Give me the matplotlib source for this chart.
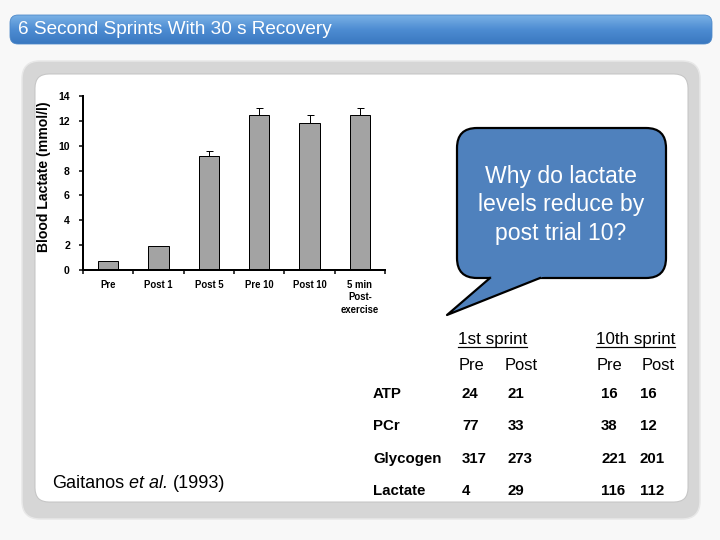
import numpy as np
import matplotlib
matplotlib.use('Agg')
import matplotlib.pyplot as plt
from matplotlib.patches import FancyBboxPatch, Polygon
from matplotlib.lines import Line2D
from matplotlib.colors import LinearSegmentedColormap

plt.rcParams['font.family'] = ['Liberation Sans', 'DejaVu Sans']

# blood lactate over the sprints (Gaitanos et al. 1993)
time_points = ['Pre', 'Post 1', 'Post 5', 'Pre 10', 'Post 10', '5 min\nPost-\nexercise']
lactate = [0.7, 1.9, 9.2, 12.5, 11.8, 12.5]
lactate_err = [0.0, 0.07, 0.4, 0.55, 0.65, 0.55]

# muscle metabolites
metabolites = ['ATP', 'PCr', 'Glycogen', 'Lactate']
sprint1_pre = [24, 77, 317, 4]
sprint1_post = [21, 33, 273, 29]
sprint10_pre = [16, 38, 221, 116]
sprint10_post = [16, 12, 201, 112]

fig = plt.figure(figsize=(10, 7.5), dpi=72)
fig.patch.set_facecolor('#f8f8f8')

# slide layer, pixel coordinates (y down)
bg = fig.add_axes([0, 0, 1, 1])
bg.axis('off')

# title bar
bar = FancyBboxPatch((10, 15), 702, 29, boxstyle='round,pad=0,rounding_size=8',
                     fc='none', ec='#4a86c8', lw=0.8, zorder=2)
bg.add_patch(bar)
cmap = LinearSegmentedColormap.from_list('title', ['#7ab1e5', '#4d8cd2', '#3a78c0'])
im = bg.imshow(np.linspace(0, 1, 64).reshape(-1, 1), extent=(10, 712, 44, 15),
               cmap=cmap, aspect='auto', zorder=1)
im.set_clip_path(bar)
bg.text(18, 30, '6 Second Sprints With 30 s Recovery', color='white',
        fontsize=19, va='center', zorder=3)

# content frame
bg.add_patch(FancyBboxPatch((22, 61), 678, 458, boxstyle='round,pad=0,rounding_size=18',
                            fc='#d6d6d6', ec='#e8e8e8', lw=1.5, zorder=1))
bg.add_patch(FancyBboxPatch((35, 74), 653, 428, boxstyle='round,pad=0,rounding_size=14',
                            fc='white', ec='#c4c4c4', lw=1, zorder=1))

bg.set_xlim(0, 720)
bg.set_ylim(540, 0)

# bar chart
ax = fig.add_axes([83 / 720, 1 - 270 / 540, (385 - 83) / 720, (270 - 96) / 540])
ax.set_facecolor('none')
x = np.arange(len(time_points))
ax.bar(x, lactate, width=0.4, color='#a3a3a3', edgecolor='black', linewidth=1, zorder=2)
ax.errorbar(x, lactate, yerr=[np.zeros(len(x)), lactate_err], fmt='none',
            ecolor='black', elinewidth=1, capsize=3.5, capthick=1, zorder=1)
ax.set_xlim(-0.5, 5.5)
ax.set_ylim(0, 14)
ax.set_yticks(range(0, 15, 2))
ax.set_xticks(x)
ax.set_xticks(np.arange(-0.5, 6, 1), minor=True)
ax.set_xticklabels(time_points, fontweight='bold', fontsize=9.5, linespacing=1.3)
ax.set_yticklabels([str(v) for v in range(0, 15, 2)], fontweight='bold', fontsize=10.5)
ax.tick_params(axis='y', direction='out', length=4, width=1.5, pad=9)
ax.tick_params(axis='x', which='major', length=0, pad=10)
ax.tick_params(axis='x', which='minor', direction='out', length=4, width=1.5)
for s in ['top', 'right']:
    ax.spines[s].set_visible(False)
for s in ['left', 'bottom']:
    ax.spines[s].set_linewidth(2)
ax.set_ylabel('Blood Lactate (mmol/l)', fontsize=14, fontweight='bold')
ax.yaxis.set_label_coords(-0.106, 0.534)

# speech bubble
blue = '#4f81bd'
bg.add_patch(FancyBboxPatch((457, 128), 209, 150, boxstyle='round,pad=0,rounding_size=20',
                            fc=blue, ec='black', lw=2.2, zorder=3))
bg.add_patch(Polygon([(497, 272), (447, 315), (555, 272)], closed=True,
                     fc=blue, ec='none', zorder=4))
bg.add_line(Line2D([490, 447, 540], [278, 315, 278], color='black', lw=2.2, zorder=5))
bg.text(561, 205, 'Why do lactate\nlevels reduce by\npost trial 10?', color='white',
        fontsize=23, ha='center', va='center', linespacing=1.3, zorder=6)

# metabolite table
headers = []
for label, x0 in [('1st sprint', 458), ('10th sprint', 596)]:
    headers.append(bg.text(x0, 344, label, fontsize=17, va='baseline'))
for label, x0 in zip(['Pre', 'Post', 'Pre', 'Post'], [459, 505, 597, 642]):
    bg.text(x0, 370, label, fontsize=16.5, va='baseline')

col_x = [462, 508, 601, 640]
row_y = [398, 430, 463, 495]
columns = [sprint1_pre, sprint1_post, sprint10_pre, sprint10_post]
for i, name in enumerate(metabolites):
    bg.text(373, row_y[i], name, fontsize=15, fontweight='bold', va='baseline')
    for cx, vals in zip(col_x, columns):
        bg.text(cx, row_y[i], str(vals[i]), fontsize=15, fontweight='bold', va='baseline')

renderer = fig.canvas.get_renderer()
inv = bg.transData.inverted()


def right_edge(t):
    ext = t.get_window_extent(renderer)
    return inv.transform((ext.x1, ext.y0))[0]


# underline the sprint headers
for t in headers:
    ext = t.get_window_extent(renderer)
    (x0, _), (x1, _) = inv.transform([(ext.x0, ext.y0), (ext.x1, ext.y0)])
    bg.add_line(Line2D([x0, x1], [346.5, 346.5], color='black', lw=1.2))

# citation, with italic "et al."
space = 5
cx = 52
for part, style in [('Gaitanos', 'normal'), ('et al.', 'italic'), ('(1993)', 'normal')]:
    t = bg.text(cx, 488, part, fontsize=18, style=style, va='baseline')
    cx = right_edge(t) + space

fig.savefig('out.png', dpi=72, facecolor=fig.get_facecolor())
